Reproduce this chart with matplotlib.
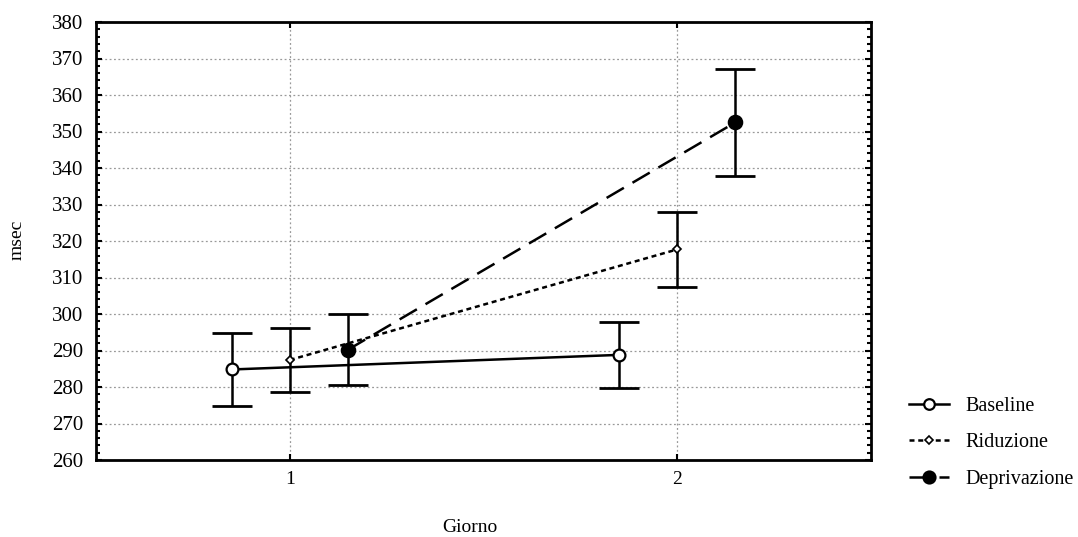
import matplotlib
matplotlib.use("Agg")
import matplotlib.pyplot as plt
from matplotlib.ticker import MultipleLocator
from matplotlib.lines import Line2D

plt.rcParams['font.family'] = ['Liberation Serif', 'DejaVu Serif']

days = [1, 2]
day_labels = ["1", "2"]
series_names = ["Baseline", "Riduzione", "Deprivazione"]
baseline = [284.8, 288.8]
baseline_err = [10.0, 9.0]
riduzione = [287.4, 317.7]
riduzione_err = [8.8, 10.3]
deprivazione = [290.2, 352.5]
deprivazione_err = [9.7, 14.7]

offsets = [-0.15, 0.0, 0.15]
values = [baseline, riduzione, deprivazione]
errors = [baseline_err, riduzione_err, deprivazione_err]
linestyles = ['-', (0, (2, 1.5)), (0, (8, 4))]
markers = ['o', 'D', 'o']
msizes = [8.5, 4.5, 10]
mfaces = ['white', 'white', 'black']
mews = [1.6, 1.2, 1.2]

W, H = 1078, 537
fig = plt.figure(figsize=(W / 100, H / 100), dpi=100)
ax = fig.add_axes([96 / W, 1 - 460 / H, (871 - 96) / W, (460 - 22) / H])

for i in range(3):
    xs = [d + offsets[i] for d in days]
    ax.errorbar(xs, values[i], yerr=errors[i], fmt='none', ecolor='black',
                elinewidth=1.8, capsize=14.5, capthick=2.0, zorder=3)
    ax.plot(xs, values[i], color='black', linestyle=linestyles[i], linewidth=1.8,
            marker=markers[i], markersize=msizes[i], markerfacecolor=mfaces[i],
            markeredgecolor='black', markeredgewidth=mews[i], zorder=4)

ax.set_xlim(0.5, 2.5)
ax.set_ylim(260, 380)
ax.set_xticks(days)
ax.set_xticklabels(day_labels)
ax.yaxis.set_major_locator(MultipleLocator(10))
ax.yaxis.set_minor_locator(MultipleLocator(2))
ax.tick_params(axis='y', which='both', direction='in', left=True, right=True,
               labelsize=15, width=1.5, pad=9)
ax.tick_params(axis='y', which='major', length=4)
ax.tick_params(axis='y', which='minor', length=3)
ax.tick_params(axis='x', direction='in', top=True, bottom=True, length=4,
               labelsize=14, width=1.5, pad=8)
ax.grid(True, which='major', color='#999999', linestyle=(0, (1.5, 2)), linewidth=0.9)
ax.set_axisbelow(True)
for s in ax.spines.values():
    s.set_linewidth(2.0)

fig.text(17 / W, 1 - 240 / H, "msec", rotation=90, ha='center', va='center', fontsize=14)
fig.text(470 / W, 1 - 527 / H, "Giorno", ha='center', va='center', fontsize=14)

handles = []
for i in range(3):
    handles.append(Line2D([], [], color='black', linestyle=linestyles[i], linewidth=1.8,
                          marker=markers[i], markersize=msizes[i] * 0.9,
                          markerfacecolor=mfaces[i], markeredgecolor='black',
                          markeredgewidth=mews[i]))
fig.legend(handles, series_names, loc='upper left', bbox_to_anchor=(905 / W, 1 - 393 / H),
           frameon=False, fontsize=14.5, handlelength=2.0, handletextpad=0.8,
           labelspacing=0.85, borderaxespad=0, borderpad=0.2)

fig.savefig("out.png", dpi=100)
